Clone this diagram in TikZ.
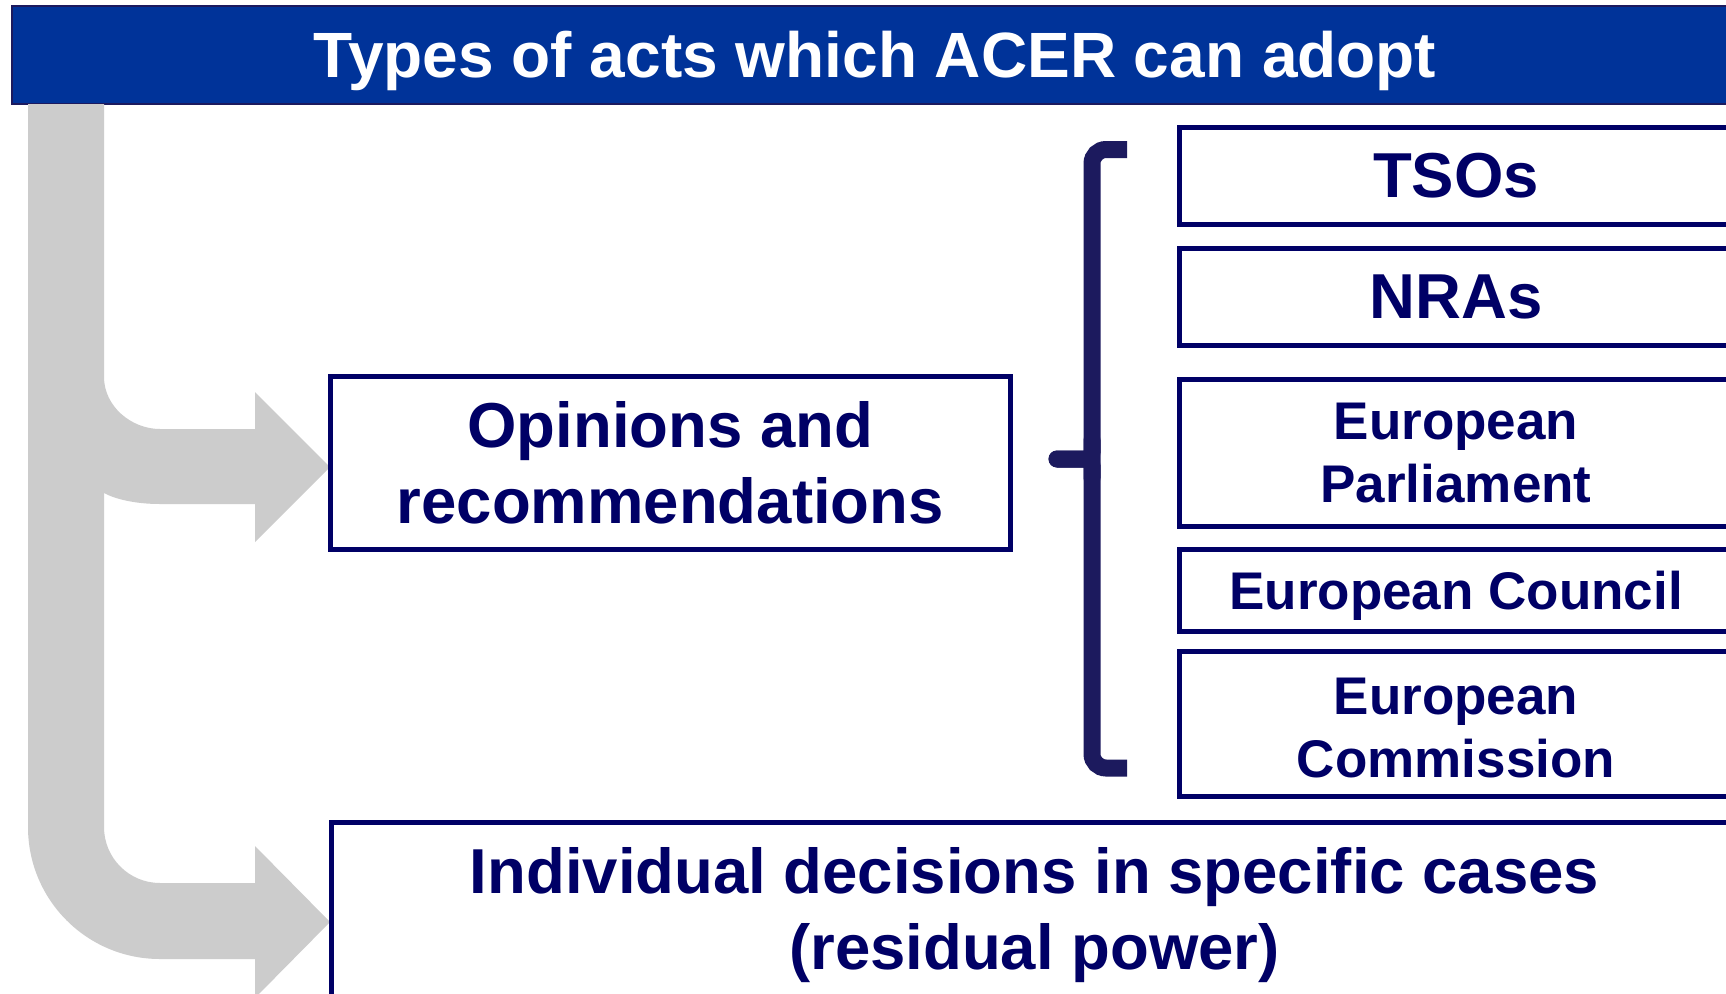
\documentclass[tikz,border=0pt]{standalone}
\usepackage{fontspec}
\setmainfont{Liberation Sans}
\definecolor{hdrblue}{RGB}{0,51,153}
\definecolor{navy}{RGB}{0,0,102}
\definecolor{bracecol}{RGB}{28,26,94}
\definecolor{arrgray}{RGB}{204,204,204}
\begin{document}
\begin{tikzpicture}[x=1pt,y=-1pt,
  box/.style={draw=navy, line width=5pt, fill=white, inner sep=0pt, text=navy,
    font=\bfseries\fontsize{63.5}{76}\selectfont, align=center},
  smallbox/.style={box, font=\bfseries\fontsize{53}{63}\selectfont},
  hdrbox/.style={draw=bracecol, line width=2pt, fill=hdrblue, text=white, inner sep=0pt,
    font=\bfseries\fontsize{64}{76}\selectfont},
  bracestroke/.style={draw=bracecol, line width=17pt}]
\clip (0,0) rectangle (1726,993);
\fill[white] (0,0) rectangle (1726,993);
% header
\node[hdrbox, minimum width=1726pt, minimum height=98pt, text height=59pt, text depth=13.5pt] (hdr) at (875,55) {Types of acts which ACER can adopt};
% gray arrows
\fill[arrgray] (28,104) -- (104,104) -- (104,377)
  .. controls (104,406) and (131,429) .. (160,429) -- (255,429) -- (255,392) -- (330,467)
  -- (255,542) -- (255,504) -- (160,504) .. controls (135,504) and (115,499) .. (104,493)
  -- (104,827) .. controls (104,858) and (129,883) .. (160,883) -- (255,883) -- (255,846)
  -- (330,922) -- (255,998) -- (255,959) -- (160,959) .. controls (87,959) and (28,900) .. (28,827)
  -- cycle;
% left boxes
\node[box, minimum width=679.5pt, minimum height=173pt] (op) at (670.25,463) {Opinions and\\recommendations};
\node[box, minimum width=1407pt, minimum height=187pt] (ind) at (1034.5,915.5) {Individual decisions in specific cases\\(residual power)};
% brace
\draw[bracestroke, rounded corners=14pt] (1127,149.5) -- (1092,149.5) -- (1092,768) -- (1127,768);
\draw[bracestroke, line cap=round, rounded corners=7pt] (1092,440) -- (1092,459) -- (1057,459);
\draw[bracestroke, line cap=round, rounded corners=7pt] (1092,478) -- (1092,459) -- (1057,459);
% right boxes
\node[box, minimum width=554pt, minimum height=96.5pt] (tso) at (1456,175.75) {TSOs};
\node[box, minimum width=554pt, minimum height=96.5pt] (nra) at (1456,296.75) {NRAs};
\node[smallbox, minimum width=554pt, minimum height=147.5pt] (ep) at (1456,452.75) {European\\Parliament};
\node[smallbox, minimum width=554pt, minimum height=82pt, text height=49.7pt, text depth=11.1pt] (ec) at (1456,590.5) {European Council};
\node[smallbox, minimum width=554pt, minimum height=144.5pt] (com) at (1456,723.75) {European\rule{0pt}{44pt}\\Commission};
\end{tikzpicture}
\end{document}
